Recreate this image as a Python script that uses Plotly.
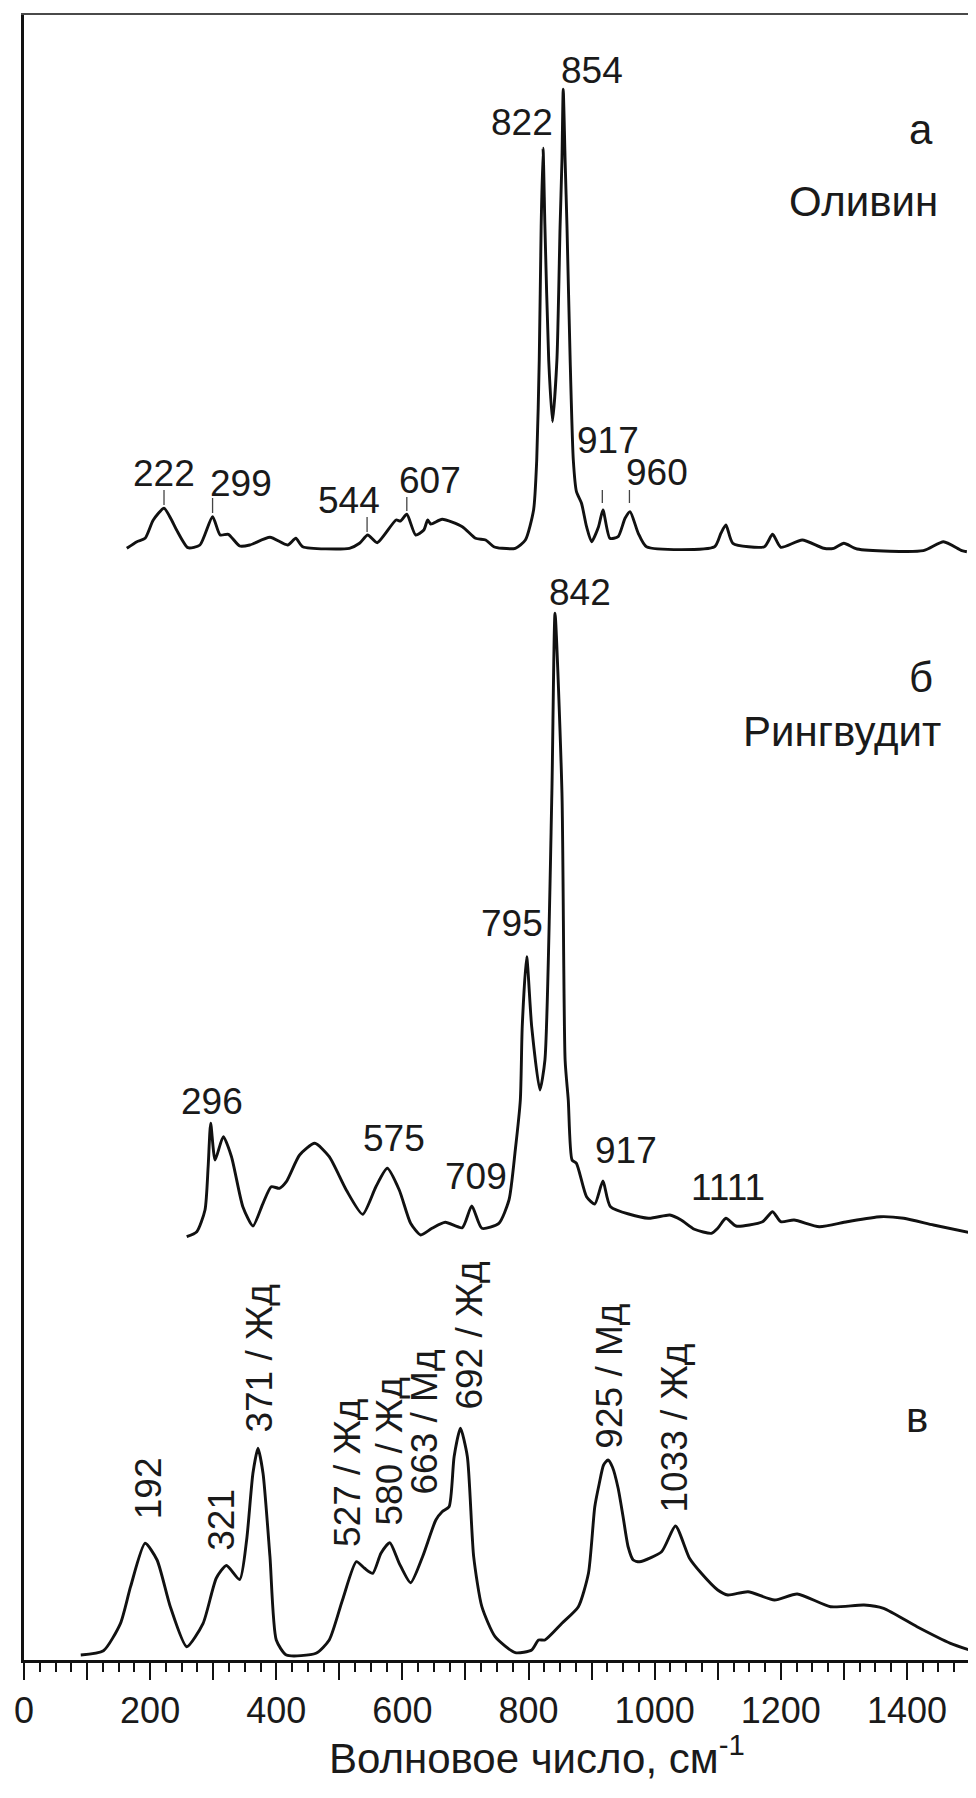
import plotly.graph_objects as go

# ---------------- data (wavenumber, cm-1 / relative intensity) ----------------
olivine_x = [163, 179, 192, 205, 222, 234, 242, 260, 279, 299, 311, 324, 342, 358, 390, 418, 431, 442,
             516, 532, 545, 560, 590, 597, 607, 621, 634, 640, 645, 663, 695, 716, 732, 745, 758,
             779, 795, 808, 813, 817, 820, 823, 826, 832, 838, 845, 850, 853, 855, 858, 861, 866,
             871, 876, 884, 892, 900, 911, 918, 929, 942, 953, 961, 974, 987, 1095, 1105, 1113,
             1124, 1174, 1187, 1200, 1234, 1268, 1284, 1300, 1321, 1426, 1458, 1487, 1495]
olivine_y = [1.7, 8.3, 11.7, 30, 41.7, 30, 20, 2.3, 5, 33.3, 15, 15.7, 4, 5, 12.7, 5, 11.7, 3.3,
             1.7, 6.7, 15, 7.3, 30, 29, 35.7, 15, 20, 30, 26, 30.7, 23.3, 11.7, 10, 3.3, 1.7,
             1.7, 10, 40, 90, 190, 323, 401.7, 323, 190, 128.3, 190, 323, 390, 460.7, 390, 323, 190,
             90, 58.3, 46.7, 23.3, 8.3, 23.3, 40, 11.7, 13.3, 31.7, 38.3, 16.7, 3.3, 3.3, 16.7, 25,
             6.7, 3.3, 15.7, 2.7, 10, 1.7, 1.7, 6.7, 1, -0.7, 8.3, -0.7, -1.7]

ringwoodite_x = [258, 274, 287, 292, 296, 303, 316, 329, 347, 363, 379, 392, 405, 416, 437, 461, 484,
                 511, 537, 558, 576, 595, 613, 629, 647, 668, 695, 710, 726, 753, 769, 779, 787, 790,
                 797, 805, 818, 826, 837, 842, 853, 858, 863, 869, 876, 892, 905, 918, 930, 990, 1024,
                 1042, 1063, 1090, 1100, 1113, 1129, 1171, 1187, 1200, 1221, 1261, 1305, 1358, 1395,
                 1442, 1500]
ringwoodite_y = [3.3, 8.3, 30, 73.3, 116.7, 80, 103.3, 83.3, 33.3, 14, 36.7, 53.3, 51.7, 58.3, 85, 96.7, 83.3,
                 50, 25.7, 53.3, 71.7, 50, 16.7, 5, 11.7, 17.7, 12.3, 34, 11.7, 16.7, 40, 90, 140, 213.3,
                 283.3, 213.3, 150, 180, 447, 626.7, 447, 180, 140, 80, 76.7, 43.3, 36, 59, 33.3, 21.7, 25,
                 20, 10.7, 6.7, 11.7, 21.7, 14, 18.3, 28.3, 18.3, 20, 13.3, 18.3, 23.3, 21.7,
                 15, 7.3]

sample_x = [90, 126, 153, 169, 192, 211, 232, 258, 284, 305, 321, 342, 353, 363, 371, 379, 390, 400, 416,
            463, 484, 505, 527, 540, 553, 566, 580, 595, 613, 632, 653, 663, 674, 682, 692, 703, 713,
            726, 747, 779, 805, 816, 826, 853, 879, 895, 905, 912, 919, 926, 933, 942, 950, 958, 966,
            976, 1011, 1033, 1055, 1074, 1100, 1116, 1148, 1190, 1226, 1279, 1332, 1363, 1416, 1469, 1499]
sample_y = [5, 9.3, 36.7, 73.3, 116.7, 100, 53.3, 13.3, 36.7, 82, 94.5, 80.5, 120, 186.7, 211.7, 186.7, 103.3, 20, 5,
            6.7, 20, 60, 98.3, 91.7, 86.7, 106.7, 117.3, 96.7, 77.3, 103.3, 140, 148.3, 153.3, 203.3, 231.7, 203.3, 103.3,
            53.3, 23.3, 7.3, 10, 20, 20, 36.7, 53.3, 86.7, 153, 176, 195, 200, 193, 172, 143, 113, 100,
            98.3, 108.3, 134, 102, 86.7, 70, 65, 68.3, 60, 66, 53.3, 55, 51.7, 33.3, 16.7, 10]

# vertical offsets of the stacked spectra
offset_olivine = 1110
offset_ringwoodite = 420
offset_sample = 0

# peak labels
olivine_peaks = ["222", "299", "544", "607", "822", "854", "917", "960"]
olivine_lab_x = [222, 344, 516, 644, 790, 900, 926, 1003]
olivine_lab_y = [77, 67, 50, 70, 428, 480, 110, 78]
olivine_marks = [222, 299, 544, 607, 917, 960]
olivine_mark_lo = [45, 37, 18, 39, 47, 47]
olivine_mark_hi = [60, 52, 33, 53, 60, 60]

ring_peaks = ["296", "575", "709", "795", "842", "917", "1111"]
ring_lab_x = [298, 587, 716, 774, 882, 955, 1116]
ring_lab_y = [139, 102, 64, 317, 648, 90, 53]

sample_peaks = ["192", "321", "371 / Жд", "527 / Жд", "580 / Жд", "663 / Мд", "692 / Жд", "925 / Мд", "1033 / Жд"]
sample_lab_x = [197, 312, 372, 512, 578, 635, 705, 927, 1030]
sample_lab_y = [172, 140, 301, 187, 208, 238, 324, 284, 232]

FONT = "Liberation Sans, Arial, sans-serif"
LINE = dict(color="#111111", width=2.9, shape="spline", smoothing=0.6)

fig = go.Figure()
for xs, ys, off in [(olivine_x, olivine_y, offset_olivine),
                    (ringwoodite_x, ringwoodite_y, offset_ringwoodite),
                    (sample_x, sample_y, offset_sample)]:
    fig.add_trace(go.Scatter(x=xs, y=[v + off for v in ys], mode="lines", line=LINE,
                             showlegend=False, hoverinfo="skip"))
# empty trace that carries the grey top/right frame axes
fig.add_trace(go.Scatter(x=[None], y=[None], xaxis="x2", yaxis="y2", mode="lines",
                         showlegend=False, hoverinfo="skip"))

ann = []
def lab(text, x, y, angle=0, size=37, xanchor="center"):
    ann.append(dict(text=text, x=x, y=y, xref="x", yref="y", showarrow=False, textangle=angle,
                    xanchor=xanchor, yanchor="middle", font=dict(family=FONT, size=size, color="#1a1a1a")))

for t, x, y in zip(olivine_peaks, olivine_lab_x, olivine_lab_y):
    lab(t, x, y + offset_olivine)
for t, x, y in zip(ring_peaks, ring_lab_x, ring_lab_y):
    lab(t, x, y + offset_ringwoodite)
for t, x, y in zip(sample_peaks, sample_lab_x, sample_lab_y):
    lab(t, x, y + offset_sample, angle=-90)

lab("а", 1445, 1531, size=42, xanchor="right")
lab("Оливин", 1452, 1459, size=42, xanchor="right")
lab("б", 1445, 983, size=42, xanchor="right")
lab("Рингвудит", 1457, 929, size=42, xanchor="right")
lab("в", 1437, 243, size=42, xanchor="right")

ann.append(dict(text="Волновое число, см<sup>-1</sup>", x=0.542, y=-0.058, xref="paper", yref="paper",
                showarrow=False, xanchor="center", yanchor="middle",
                font=dict(family=FONT, size=42, color="#1a1a1a")))

shapes = []
for x, lo, hi in zip(olivine_marks, olivine_mark_lo, olivine_mark_hi):
    shapes.append(dict(type="line", xref="x", yref="y", x0=x, x1=x, y0=lo + offset_olivine,
                       y1=hi + offset_olivine, line=dict(color="#444444", width=1.3)))

# page body adds an 8px margin: figure is 968x1782 so the plot sits where the reference has it
fig.update_layout(
    width=968, height=1782,
    margin=dict(l=12, r=6, t=7, b=130),
    paper_bgcolor="white", plot_bgcolor="white",
    annotations=ann, shapes=shapes,
    xaxis=dict(range=[0, 1500], showgrid=False, zeroline=False, showline=True, linecolor="#111111",
               linewidth=2.5, ticks="outside", ticklen=17, tickwidth=2, tickcolor="#111111",
               tick0=0, dtick=100, ticklabelstep=2,
               tickfont=dict(family=FONT, size=36, color="#1a1a1a"),
               minor=dict(dtick=25, ticks="outside", ticklen=9, tickwidth=1.5, tickcolor="#111111")),
    yaxis=dict(range=[0, 1645], showgrid=False, zeroline=False, showline=True, linecolor="#111111",
               linewidth=2.5, showticklabels=False, ticks=""),
    xaxis2=dict(overlaying="x", side="top", anchor="y2", range=[0, 1500], showline=True,
                linecolor="#4a4a4a", linewidth=2, showgrid=False, zeroline=False,
                showticklabels=False, ticks=""),
    yaxis2=dict(overlaying="y", side="right", anchor="x2", range=[0, 1645], showline=True,
                linecolor="#4a4a4a", linewidth=2, showgrid=False, zeroline=False,
                showticklabels=False, ticks=""),
)

fig.write_html("out.html")
